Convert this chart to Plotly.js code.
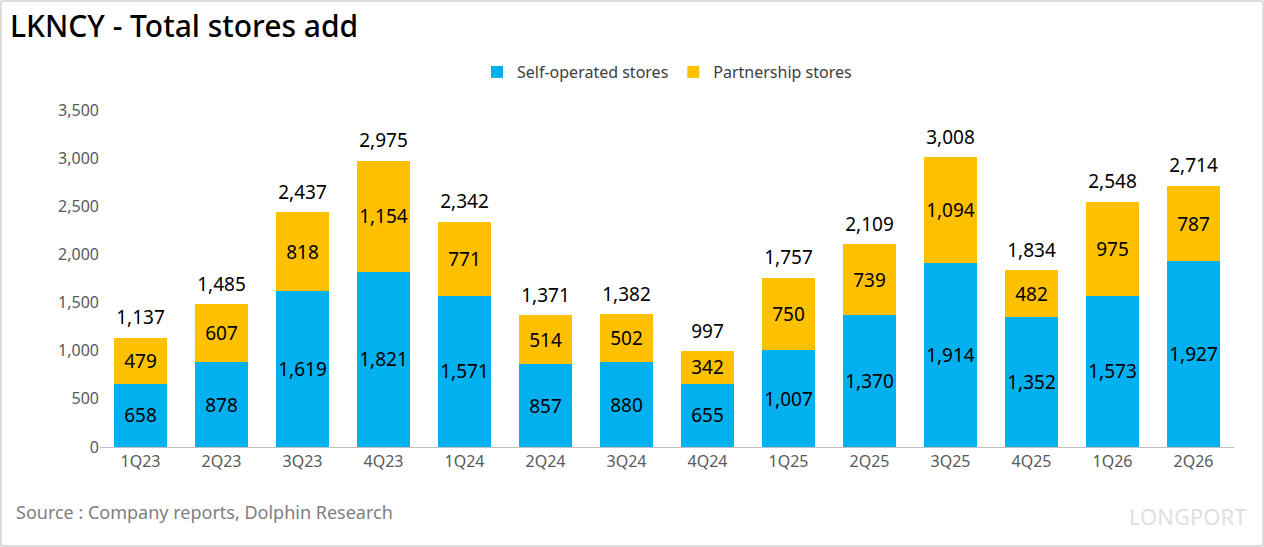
<!DOCTYPE html>
<html>
<head>
<meta charset="utf-8">
<script src="https://cdn.plot.ly/plotly-3.0.1.min.js"></script>
<style>
body { margin: 0; background: #fff; }
#chart { width: 1264px; height: 547px; }
</style>
</head>
<body>
<div id="chart"></div>
<script>
const quarters = ["1Q23","2Q23","3Q23","4Q23","1Q24","2Q24","3Q24","4Q24","1Q25","2Q25","3Q25","4Q25","1Q26","2Q26"];
const selfOperated = [658, 878, 1619, 1821, 1571, 857, 880, 655, 1007, 1370, 1914, 1352, 1573, 1927];
const partnership = [479, 607, 818, 1154, 771, 514, 502, 342, 750, 739, 1094, 482, 975, 787];
const totals = [1137, 1485, 2437, 2975, 2342, 1371, 1382, 997, 1757, 2109, 3008, 1834, 2548, 2714];

const BLUE = "#00b0ef";
const GOLD = "#ffc000";
const labelFont = { family: "Noto Sans, Arial", size: 19, color: "#000" };

const data = [
	{
		type: "bar", name: "Self-operated stores", x: quarters, y: selfOperated,
		marker: { color: BLUE },
		text: selfOperated.map(v => v.toLocaleString("en-US")),
		textposition: "inside", insidetextanchor: "middle", textfont: labelFont,
		textangle: 0, constraintext: "none", hoverinfo: "skip",
	},
	{
		type: "bar", name: "Partnership stores", x: quarters, y: partnership,
		marker: { color: GOLD },
		text: partnership.map(v => v.toLocaleString("en-US")),
		textposition: "inside", insidetextanchor: "middle", textfont: labelFont,
		textangle: 0, constraintext: "none", hoverinfo: "skip",
	},
	{
		type: "scatter", mode: "text", x: quarters, y: totals.map(v => v + 90),
		text: totals.map(v => v.toLocaleString("en-US")),
		textposition: "top center", textfont: labelFont,
		showlegend: false, hoverinfo: "skip", cliponaxis: false,
	},
];

const L = 100, R = 30, T = 110, B = 100;
const PW = 1264 - L - R, PH = 547 - T - B;
const px = x => (x - L) / PW;
const py = y => (547 - B - y) / PH;

const layout = {
	width: 1264, height: 547,
	barmode: "stack", bargap: 0.35,
	paper_bgcolor: "#fff", plot_bgcolor: "#fff",
	margin: { l: L, r: R, t: T, b: B },
	font: { family: "Noto Sans, Arial", color: "#595959" },
	xaxis: {
		range: [-0.5, quarters.length - 0.5],
		showline: true, linecolor: "#bfbfbf", ticks: "",
		tickfont: { size: 16, color: "#595959" },
	},
	yaxis: {
		range: [0, 3500], dtick: 500, tickformat: ",d", showgrid: false,
		zeroline: false, ticks: "", tickfont: { size: 16, color: "#595959" },
	},
	legend: {
		orientation: "h", x: 0.5, xanchor: "center", y: py(72), yanchor: "middle",
		font: { size: 16, color: "#404040" }, traceorder: "normal",
	},
	shapes: [
		{ type: "rect", xref: "paper", yref: "paper", x0: px(1), x1: px(1263), y0: py(546), y1: py(1),
		  line: { color: "#bbb", width: 1 } },
	],
	annotations: [
		{
			xref: "paper", yref: "paper", x: px(8), y: py(25), xanchor: "left", yanchor: "middle",
			text: "LKNCY - Total stores add", showarrow: false,
			font: { family: "Noto Sans, Arial", size: 30, color: "#000", weight: 500 },
		},
		{
			xref: "paper", yref: "paper", x: px(14), y: py(512), xanchor: "left", yanchor: "middle",
			text: "Source : Company reports, Dolphin Research", showarrow: false,
			font: { size: 18, color: "#808080" },
		},
		{
			xref: "paper", yref: "paper", x: px(1248), y: py(516), xanchor: "right", yanchor: "middle",
			text: "LONGPORT", showarrow: false,
			font: { size: 22, color: "#e0e0e0" },
		},
	],
};

Plotly.newPlot("chart", data, layout, { displayModeBar: false });
</script>
</body>
</html>
